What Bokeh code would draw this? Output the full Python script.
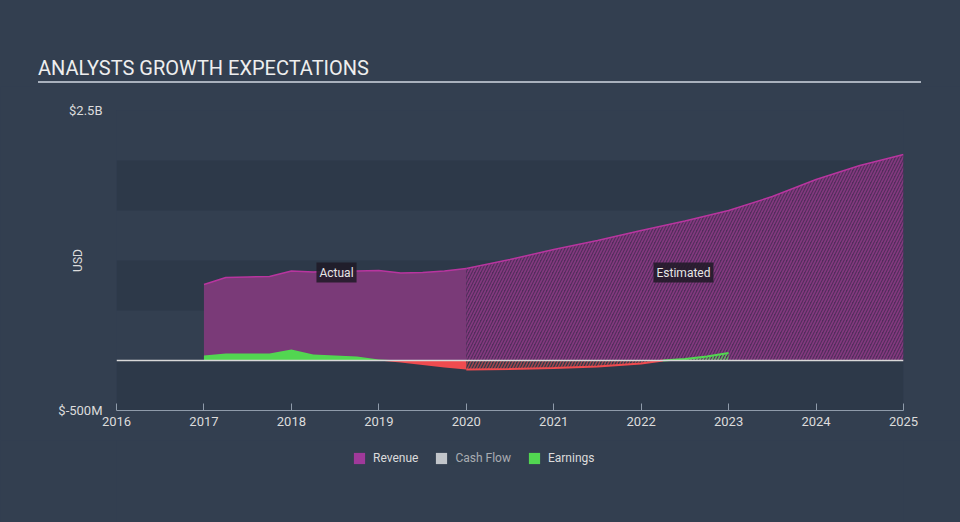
import numpy as np
from jinja2 import Template
from bokeh.plotting import figure
from bokeh.layouts import column
from bokeh.models import (BoxAnnotation, Span, Label, Legend, LegendItem,
                          FixedTicker, ColumnDataSource, Div)
from bokeh.embed import file_html
from bokeh.resources import INLINE

# ---------------- data (USD millions) ----------------
years_ticks = [2016, 2017, 2018, 2019, 2020, 2021, 2022, 2023, 2024, 2025]

act_x = [2017.0, 2017.25, 2017.5, 2017.75, 2018.0, 2018.25, 2018.5, 2018.75,
         2019.0, 2019.25, 2019.5, 2019.75, 2020.0]
act_revenue = [760, 830, 835, 840, 895, 885, 895, 895, 900, 875, 880, 895, 920]
act_earnings = [50, 70, 70, 70, 110, 60, 50, 40, 10, -20, -45, -70, -90]

est_x = [2020.0, 2020.5, 2021.0, 2021.5, 2022.0, 2022.5, 2023.0, 2023.5,
         2024.0, 2024.5, 2025.0]
est_revenue = [920, 1010, 1110, 1200, 1300, 1395, 1500, 1640, 1810, 1950, 2060]

est_earn_x = [2020.0, 2020.5, 2021.0, 2021.5, 2022.0, 2022.25, 2022.5, 2022.75, 2023.0]
est_earnings = [-90, -85, -75, -60, -30, 0, 15, 40, 75]

y_ticks = [-500, 2500]
y_tick_labels = {-500: "$-500M", 2500: "$2.5B"}
series_names = ["Revenue", "Cash Flow", "Earnings"]

# ---------------- style ----------------
BG = "#333f50"
BAND = "#2d3949"
REV_FILL = "#7a3a78"
REV_LINE = "#b8359f"
GREEN = "#52d651"
RED = "#ef4b4f"
TXT = "#dcdcdc"
FONT = "Roboto"

title_div = Div(
    text=('<div style="margin-left:38px;width:883px;padding-top:55px;'
          'line-height:26px;font-family:Roboto;font-size:20px;color:#eeeeee;'
          'border-bottom:2px solid #a9b1bd;">ANALYSTS GROWTH EXPECTATIONS</div>'),
    width=960, height=86, styles={"background-color": BG, "margin": "0"})

p = figure(width=960, height=354, x_range=(2016, 2025), y_range=(-500, 2500),
           output_backend="svg", toolbar_location=None,
           min_border_left=116, min_border_right=57,
           min_border_top=24, min_border_bottom=30)
p.background_fill_color = BG
p.border_fill_color = BG
p.outline_line_color = None
p.grid.visible = False

# bands
for b, t in [(1500, 2000), (500, 1000), (-500, 0)]:
    p.add_layout(BoxAnnotation(bottom=b, top=t, fill_color=BAND, fill_alpha=1.0,
                               line_color=None, level="underlay"))

# revenue
act_src = ColumnDataSource(dict(x=act_x, rev=act_revenue,
                                zero=[0] * len(act_x),
                                pos=list(np.maximum(act_earnings, 0)),
                                neg=list(np.minimum(act_earnings, 0))))
p.varea(x="x", y1="zero", y2="rev", source=act_src, fill_color=REV_FILL)
est_src = ColumnDataSource(dict(x=est_x, rev=est_revenue, zero=[0] * len(est_x)))
p.varea(x="x", y1="zero", y2="rev", source=est_src, fill_color="#522d5c",
        fill_alpha=1.0, hatch_pattern="/", hatch_color="#84397f",
        hatch_scale=6, hatch_weight=1.6)
p.line(act_x, act_revenue, line_color=REV_LINE, line_width=1.5)
p.line(est_x, est_revenue, line_color=REV_LINE, line_width=1.5)

# earnings actual
p.varea(x="x", y1="zero", y2="pos", source=act_src, fill_color=GREEN)
p.varea(x="x", y1="zero", y2="neg", source=act_src, fill_color=RED)

# zero line
p.add_layout(Span(location=0, dimension="width", line_color="#d8d8d8", line_width=1.5))

# earnings estimated
ee = np.array(est_earnings)
eex = np.array(est_earn_x)
est_e_src = ColumnDataSource(dict(x=est_earn_x, zero=[0] * len(est_earn_x),
                                  pos=list(np.maximum(ee, 0)), neg=list(np.minimum(ee, 0))))
p.varea(x="x", y1="zero", y2="neg", source=est_e_src, fill_alpha=0,
        hatch_pattern="/", hatch_color=RED, hatch_alpha=0.6, hatch_scale=6, hatch_weight=1.5)
p.varea(x="x", y1="zero", y2="pos", source=est_e_src, fill_alpha=0,
        hatch_pattern="/", hatch_color=GREEN, hatch_alpha=0.8, hatch_scale=6, hatch_weight=1.5)
p.line(list(eex[ee <= 0]), list(ee[ee <= 0]), line_color=RED, line_width=2)
p.line(list(eex[ee >= 0]), list(ee[ee >= 0]), line_color=GREEN, line_width=2)

# axes
xa = p.xaxis[0]
xa.ticker = FixedTicker(ticks=years_ticks)
xa.major_label_overrides = {y: str(y) for y in years_ticks}
xa.axis_line_color = "#8f9baa"
xa.major_tick_line_color = "#8f9baa"
xa.major_tick_in = 7
xa.major_tick_out = 0
xa.minor_tick_line_color = None
xa.major_label_text_color = TXT
xa.major_label_text_font = FONT
xa.major_label_text_font_size = "13px"
xa.major_label_standoff = 6

ya = p.yaxis[0]
ya.ticker = FixedTicker(ticks=y_ticks)
ya.major_label_overrides = y_tick_labels
ya.axis_line_color = None
ya.major_tick_line_color = None
ya.minor_tick_line_color = None
ya.major_tick_in = 0
ya.major_tick_out = 0
ya.major_label_standoff = 14
ya.major_label_text_color = TXT
ya.major_label_text_font = FONT
ya.major_label_text_font_size = "13px"
ya.axis_label = "USD"
ya.axis_label_text_color = TXT
ya.axis_label_text_font = FONT
ya.axis_label_text_font_style = "normal"
ya.axis_label_text_font_size = "12px"
ya.axis_label_standoff = -30

# Actual / Estimated tags
for xx, t in [(2018.516, "Actual"), (2022.484, "Estimated")]:
    p.add_layout(Label(x=xx, y=880, text=t, text_align="center", text_baseline="middle",
                       text_color="#e6e6e6", text_font=FONT, text_font_size="12px",
                       background_fill_color="#1e1a26", background_fill_alpha=0.85,
                       padding=3))

# ---------------- legend strip (proxies lie outside its ranges) ----------------
lf = figure(width=960, height=82, x_range=(0, 1), y_range=(0, 1),
            x_axis_type=None, y_axis_type=None, output_backend="svg",
            toolbar_location=None, min_border=0)
lf.background_fill_color = BG
lf.border_fill_color = BG
lf.outline_line_color = None
lf.grid.visible = False
l_rev = lf.varea(x=act_x, y1=act_revenue, y2=act_revenue, fill_color="#a0399a")
l_cf = lf.varea(x=act_x, y1=[0] * len(act_x), y2=[0] * len(act_x), fill_color="#ffffff")
l_cf.visible = False
l_earn = lf.varea(x=act_x, y1=act_earnings, y2=act_earnings, fill_color=GREEN)
legend = Legend(items=[LegendItem(label=series_names[0], renderers=[l_rev]),
                       LegendItem(label=series_names[1], renderers=[l_cf]),
                       LegendItem(label=series_names[2], renderers=[l_earn])],
                location=(236, 57), orientation="horizontal",
                background_fill_alpha=0, border_line_color=None,
                padding=0, margin=0, spacing=16,
                glyph_width=14, glyph_height=14, label_standoff=7,
                label_text_color=TXT, label_text_font=FONT,
                label_text_font_size="12px", label_height=14,
                click_policy="hide",
                inactive_fill_color=BG, inactive_fill_alpha=0.3)
lf.add_layout(legend, "center")

layout = column(title_div, p, lf, spacing=0, styles={"background-color": BG})

tmpl = Template("""{% extends base %}
{% block preamble %}<style>html, body { background: #333f50; }</style>{% endblock %}""")

open("out.html", "w").write(file_html(layout, INLINE, template=tmpl))
